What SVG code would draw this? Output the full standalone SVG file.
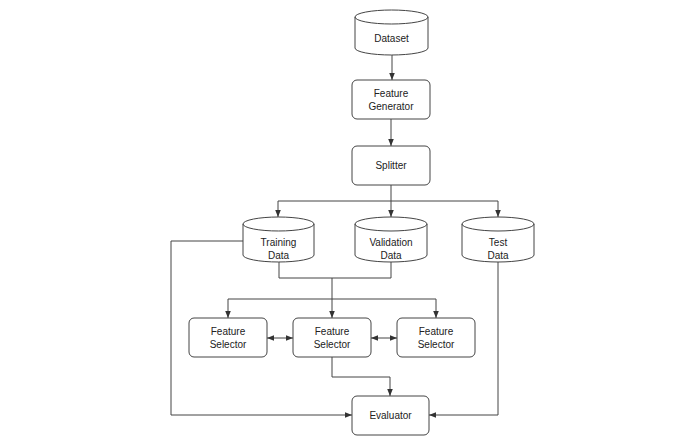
<svg xmlns="http://www.w3.org/2000/svg" width="680" height="445" viewBox="0 0 680 445">
<defs>
<marker id="ah" viewBox="0 0 10 10" refX="10" refY="5" markerWidth="7" markerHeight="7" orient="auto-start-reverse" markerUnits="userSpaceOnUse">
<path d="M0,1 L10,5 L0,9 Z" fill="#333"/>
</marker>
<style>
.n{fill:#fff;stroke:#444;stroke-width:1}
.t{font-family:"Liberation Sans",Arial,sans-serif;font-size:10px;fill:#222;text-anchor:middle}
.c{fill:none;stroke:#444;stroke-width:1}
</style>
</defs>
<rect width="680" height="445" fill="#fff"/>
<g id="connectors">
<path class="c" d="M392,55 V80" marker-end="url(#ah)"/>
<path class="c" d="M391,119 V146" marker-end="url(#ah)"/>
<path class="c" d="M391,185 V201"/>
<path class="c" d="M278,201 H498"/>
<path class="c" d="M278,201 V217" marker-end="url(#ah)"/>
<path class="c" d="M391,201 V217" marker-end="url(#ah)"/>
<path class="c" d="M498,201 V217" marker-end="url(#ah)"/>
<path class="c" d="M279,262 V278 H391 V262"/>
<path class="c" d="M332,278 V318" marker-end="url(#ah)"/>
<path class="c" d="M228,299 H436"/>
<path class="c" d="M228,299 V318" marker-end="url(#ah)"/>
<path class="c" d="M436,299 V318" marker-end="url(#ah)"/>
<path class="c" d="M267,338 H293" marker-start="url(#ah)" marker-end="url(#ah)"/>
<path class="c" d="M371,338 H397" marker-start="url(#ah)" marker-end="url(#ah)"/>
<path class="c" d="M332,357 V377 H390 V396" marker-end="url(#ah)"/>
<path class="c" d="M243,241 H171 V415 H352" marker-end="url(#ah)"/>
<path class="c" d="M498,262 V415 H429" marker-end="url(#ah)"/>
</g>
<g id="dataset">
<path class="n" d="M355,17 A36.5,7 0 0 1 428,17 V48 A36.5,7 0 0 1 355,48 Z"/>
<path class="c" d="M355,17 A36.5,7 0 0 0 428,17"/>
<text class="t" x="391.5" y="42">Dataset</text>
</g>
<g id="feature-generator">
<rect class="n" x="352" y="80" width="78" height="39" rx="5"/>
<text class="t" x="391" y="97">Feature</text>
<text class="t" x="391" y="110">Generator</text>
</g>
<g id="splitter">
<rect class="n" x="352" y="146" width="78" height="39" rx="5"/>
<text class="t" x="391" y="169">Splitter</text>
</g>
<g id="training-data">
<path class="n" d="M243,224 A35.5,7 0 0 1 314,224 V255 A35.5,7 0 0 1 243,255 Z"/>
<path class="c" d="M243,224 A35.5,7 0 0 0 314,224"/>
<text class="t" x="278.5" y="246">Training</text>
<text class="t" x="278.5" y="259">Data</text>
</g>
<g id="validation-data">
<path class="n" d="M355,224 A36,7 0 0 1 427,224 V255 A36,7 0 0 1 355,255 Z"/>
<path class="c" d="M355,224 A36,7 0 0 0 427,224"/>
<text class="t" x="391" y="246">Validation</text>
<text class="t" x="391" y="259">Data</text>
</g>
<g id="test-data">
<path class="n" d="M462,224 A36,7 0 0 1 534,224 V255 A36,7 0 0 1 462,255 Z"/>
<path class="c" d="M462,224 A36,7 0 0 0 534,224"/>
<text class="t" x="498" y="246">Test</text>
<text class="t" x="498" y="259">Data</text>
</g>
<g id="feature-selector-1">
<rect class="n" x="189" y="318" width="78" height="39" rx="5"/>
<text class="t" x="228" y="335">Feature</text>
<text class="t" x="228" y="348">Selector</text>
</g>
<g id="feature-selector-2">
<rect class="n" x="293" y="318" width="78" height="39" rx="5"/>
<text class="t" x="332" y="335">Feature</text>
<text class="t" x="332" y="348">Selector</text>
</g>
<g id="feature-selector-3">
<rect class="n" x="397" y="318" width="78" height="39" rx="5"/>
<text class="t" x="436" y="335">Feature</text>
<text class="t" x="436" y="348">Selector</text>
</g>
<g id="evaluator">
<rect class="n" x="352" y="396" width="77" height="39" rx="5"/>
<text class="t" x="390.5" y="419">Evaluator</text>
</g>
</svg>
